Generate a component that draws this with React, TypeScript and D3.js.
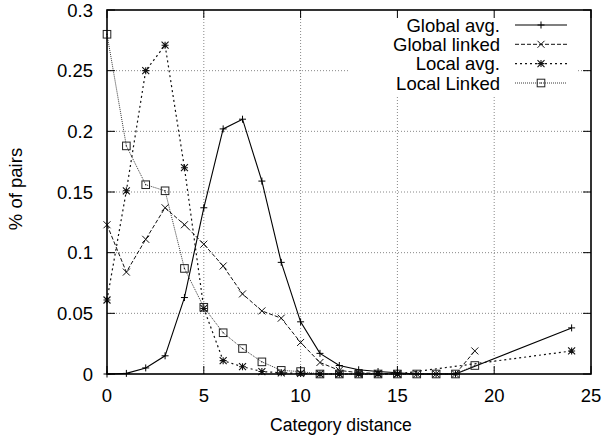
import React from "react";
import * as d3 from "d3";

const W = 603;
const H = 438;

const xTicks = [0, 5, 10, 15, 20, 25];
const yTicks = [0, 0.05, 0.1, 0.15, 0.2, 0.25, 0.3];
const yTickLabels = ["0", "0.05", "0.1", "0.15", "0.2", "0.25", "0.3"];

const globalAvgX = [0, 1, 2, 3, 4, 5, 6, 7, 8, 9, 10, 11, 12, 13, 14, 15, 16, 17, 18, 24];
const globalAvgY = [0, 0.0005, 0.005, 0.015, 0.063, 0.137, 0.202, 0.21, 0.159, 0.092, 0.043, 0.017, 0.007, 0.0035, 0.002, 0.001, 0, 0, 0, 0.038];

const globalLinkedX = [0, 1, 2, 3, 4, 5, 6, 7, 8, 9, 10, 11, 12, 13, 14, 15, 16, 17, 18, 19];
const globalLinkedY = [0.123, 0.084, 0.111, 0.137, 0.123, 0.107, 0.089, 0.066, 0.052, 0.046, 0.026, 0.0095, 0.003, 0.001, 0.0005, 0, 0, 0, 0, 0.019];

const localAvgX = [0, 1, 2, 3, 4, 5, 6, 7, 8, 9, 10, 11, 12, 13, 14, 15, 24];
const localAvgY = [0.061, 0.151, 0.25, 0.271, 0.17, 0.054, 0.011, 0.006, 0.002, 0.001, 0.0005, 0, 0, 0, 0, 0, 0.019];

const localLinkedX = [0, 1, 2, 3, 4, 5, 6, 7, 8, 9, 10, 11, 12, 13, 14, 15, 16, 17, 18, 19];
const localLinkedY = [0.28, 0.188, 0.156, 0.151, 0.087, 0.055, 0.034, 0.021, 0.01, 0.003, 0.002, 0, 0, 0, 0, 0, 0, 0, 0, 0.007];

const seriesNames = ["Global avg.", "Global linked", "Local avg.", "Local Linked"];

type Marker = "plus" | "cross" | "star" | "square";

const styles: { dash: string; color: string; width: number; marker: Marker }[] = [
  { dash: "none", color: "#000", width: 1.1, marker: "plus" },
  { dash: "4,2", color: "#111", width: 1, marker: "cross" },
  { dash: "2,3", color: "#111", width: 1.2, marker: "star" },
  { dash: "1,1", color: "#222", width: 0.9, marker: "square" },
];

function MarkerShape({ type, x, y, color }: { type: Marker; x: number; y: number; color: string }) {
  const s = 3.5;
  if (type === "plus")
    return <path d={`M${x - s},${y}H${x + s}M${x},${y - s}V${y + s}`} stroke={color} strokeWidth={1} fill="none" />;
  if (type === "cross")
    return <path d={`M${x - s},${y - s}L${x + s},${y + s}M${x - s},${y + s}L${x + s},${y - s}`} stroke={color} strokeWidth={1} fill="none" />;
  if (type === "star")
    return (
      <path
        d={`M${x - s},${y}H${x + s}M${x},${y - s}V${y + s}M${x - s},${y - s}L${x + s},${y + s}M${x - s},${y + s}L${x + s},${y - s}`}
        stroke={color}
        strokeWidth={1.1}
        fill="none"
      />
    );
  return (
    <g>
      <rect x={x - 3.8} y={y - 3.8} width={7.6} height={7.6} stroke={color} strokeWidth={1} fill="none" />
      <rect x={x - 0.6} y={y - 0.6} width={1.2} height={1.2} fill={color} />
    </g>
  );
}

export default function App() {
  const left = 107;
  const right = 591;
  const top = 10;
  const bottom = 374;
  const x = d3.scaleLinear().domain([0, 25]).range([left, right]);
  const y = d3.scaleLinear().domain([0, 0.3]).range([bottom, top]);

  const data = [
    { xs: globalAvgX, ys: globalAvgY },
    { xs: globalLinkedX, ys: globalLinkedY },
    { xs: localAvgX, ys: localAvgY },
    { xs: localLinkedX, ys: localLinkedY },
  ];

  const line = d3
    .line<[number, number]>()
    .x((d) => x(d[0]))
    .y((d) => y(d[1]));

  const font = "'Liberation Sans', Arial, Helvetica, sans-serif";
  const legendRows = [25, 44.3, 63.6, 83];
  const tl = 8;

  return (
    <svg width={W} height={H} style={{ position: "absolute", left: 0, top: 0 }} fontFamily={font}>
      <rect width={W} height={H} fill="#fff" />
      {/* grid */}
      <g stroke="#888" strokeWidth={1} strokeDasharray="1,2">
        {xTicks.slice(1, -1).map((t) => (
          <line key={"gx" + t} x1={x(t)} x2={x(t)} y1={bottom} y2={top} />
        ))}
        {yTicks.slice(1, -1).map((t) => (
          <line key={"gy" + t} x1={left} x2={right} y1={y(t)} y2={y(t)} />
        ))}
      </g>
      {/* legend mask */}
      <rect x={349} y={top + 1} width={228} height={84} fill="#fff" />
      {/* series */}
      {data.map((s, i) => {
        const pts: [number, number][] = s.xs.map((v, j) => [v, s.ys[j]]);
        const st = styles[i];
        return (
          <g key={"s" + i}>
            <path d={line(pts) || ""} fill="none" stroke={st.color} strokeWidth={st.width} strokeDasharray={st.dash} />
            {pts.map((p, j) => (
              <MarkerShape key={j} type={st.marker} x={x(p[0])} y={y(p[1])} color={st.color} />
            ))}
          </g>
        );
      })}
      {/* ticks */}
      <g stroke="#000" strokeWidth={1}>
        {xTicks.map((t) => (
          <g key={"tx" + t}>
            <line x1={x(t)} x2={x(t)} y1={bottom} y2={bottom - tl} />
            <line x1={x(t)} x2={x(t)} y1={top} y2={top + tl} />
          </g>
        ))}
        {yTicks.map((t) => (
          <g key={"ty" + t}>
            <line x1={left} x2={left + tl} y1={y(t)} y2={y(t)} />
            <line x1={right} x2={right - tl} y1={y(t)} y2={y(t)} />
          </g>
        ))}
      </g>
      {/* frame */}
      <rect x={left} y={top} width={right - left} height={bottom - top} fill="none" stroke="#000" strokeWidth={1.6} />
      {/* tick labels */}
      <g fontSize={18.5} fill="#000">
        {xTicks.map((t) => (
          <text key={"lx" + t} x={x(t)} y={402} textAnchor="middle">
            {t}
          </text>
        ))}
        {yTicks.map((t, i) => (
          <text key={"ly" + t} x={93} y={y(t) + 6.5} textAnchor="end">
            {yTickLabels[i]}
          </text>
        ))}
      </g>
      <text x={341} y={431} fontSize={17.6} textAnchor="middle">
        Category distance
      </text>
      <text transform={`translate(22,189) rotate(-90)`} fontSize={18.5} textAnchor="middle">
        % of pairs
      </text>
      {/* legend */}
      {seriesNames.map((n, i) => {
        const st = styles[i];
        const yy = legendRows[i];
        return (
          <g key={"lg" + i}>
            <text x={500} y={yy + 6.5} fontSize={18.5} textAnchor="end">
              {n}
            </text>
            <line x1={515} x2={567} y1={yy} y2={yy} stroke={st.color} strokeWidth={st.width} strokeDasharray={st.dash} />
            <MarkerShape type={st.marker} x={541} y={yy} color={st.color} />
          </g>
        );
      })}
    </svg>
  );
}
